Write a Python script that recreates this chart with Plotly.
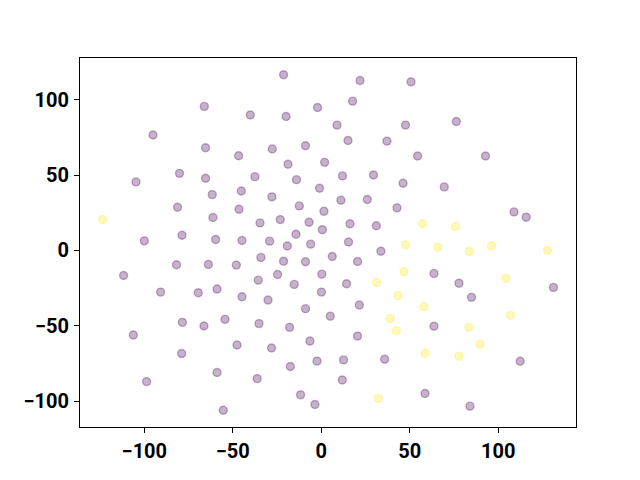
import plotly.graph_objects as go

# Purple (class 0) points
purple_x = [-21.3, -66.1, -40.1, -19.9, -2.1, -95.1, -65.4, -46.7, -27.7, -8.9,
            -18.8, 1.9, -104.7, -80.1, -65.4, -37.5, -14.0, -61.6, -45.2, -27.9,
            -1.0, -81.2, -61.2, -46.5, -12.4, 1.5, -34.6, -23.2, -6.9, 0.6,
            -14.3, -100.0, -78.7, -59.7, -44.8, -29.2, -19.2, -6.0,
            21.9, 50.7, 17.7, 8.9, 47.6, 76.3, 15.1, 37.1, 54.4, 92.8,
            12.0, 29.5, 46.2, 69.5, 11.1, 26.0, 42.8, 108.9, 115.8, 16.2,
            31.1, 15.4, 33.7,
            6.2, 20.5, 0.3, 63.7, 14.3, 77.8, 131.2, 0.1, 84.9, 21.5,
            5.1, 63.7, 20.5, -2.4, 12.6, 35.8, 112.4, 11.9, 58.6, 84.0,
            -81.8, -63.8, -48.0, -34.1, -21.3, -8.9, -111.7, -90.8, -69.5, -58.9,
            -44.8, -35.6, -24.7, -15.3, -30.1, -8.9, -78.5, -66.3, -54.4, -35.2,
            -17.9, -106.2, -47.6, -28.1, -6.4, -78.9, -17.5, -98.7, -58.9, -36.2,
            -11.7, -3.6, -55.4]
purple_y = [116.6, 95.6, 89.9, 88.9, 94.9, 76.6, 68.2, 62.9, 67.4, 69.5,
            57.2, 58.5, 45.5, 51.2, 47.9, 49.0, 47.0, 37.1, 39.5, 35.6,
            41.3, 28.7, 21.9, 27.4, 29.6, 26.0, 18.3, 20.5, 18.7, 13.8,
            10.8, 6.4, 10.1, 7.3, 6.6, 6.2, 3.0, 4.2,
            112.8, 111.9, 99.1, 83.2, 83.2, 85.6, 73.0, 72.6, 62.7, 62.7,
            49.5, 50.1, 44.6, 42.2, 33.3, 33.8, 28.3, 25.6, 22.1, 17.7,
            16.4, 5.6, -0.5,
            -4.0, -7.3, -15.7, -15.2, -22.1, -21.7, -24.5, -27.6, -31.1, -36.2,
            -43.6, -50.3, -56.8, -73.4, -72.6, -72.2, -73.5, -85.9, -94.9, -103.3,
            -9.5, -9.3, -9.7, -4.6, -7.1, -7.5, -16.6, -27.6, -28.0, -25.6,
            -30.7, -19.7, -15.9, -22.5, -32.9, -38.6, -47.7, -50.1, -45.7, -48.5,
            -51.0, -56.1, -62.7, -64.7, -60.1, -68.4, -77.0, -87.0, -81.0, -85.0,
            -95.8, -102.2, -106.0]

# Yellow (class 1) points
yellow_x = [-123.6, 57.2, 75.9, 47.7, 65.9, 83.6, 96.2, 127.8, 46.7, 31.2,
            104.4, 43.3, 58.0, 39.0, 106.9, 42.4, 83.4, 89.8, 58.6, 77.8, 32.2]
yellow_y = [20.5, 17.7, 15.9, 3.8, 2.2, -0.7, 3.1, 0.0, -14.1, -21.2,
            -18.5, -30.0, -37.3, -45.2, -43.0, -53.2, -51.0, -62.3, -68.2, -70.2, -98.0]

tick_vals = [-100, -50, 0, 50, 100]
tick_text = ["\u2212100", "\u221250", "0", "50", "100"]

all_x = purple_x + yellow_x
all_y = purple_y + yellow_y
xpad = (max(all_x) - min(all_x)) * 0.05
ypad = (max(all_y) - min(all_y)) * 0.05

PURPLE = "rgba(68,1,84,0.3)"
YELLOW = "rgba(253,231,37,0.3)"

fig = go.Figure()
fig.add_trace(go.Scatter(x=purple_x, y=purple_y, mode="markers",
                         marker=dict(size=8, color=PURPLE, line=dict(color=PURPLE, width=1.4)),
                         showlegend=False))
fig.add_trace(go.Scatter(x=yellow_x, y=yellow_y, mode="markers",
                         marker=dict(size=8, color=YELLOW, line=dict(color=YELLOW, width=1.4)),
                         showlegend=False))

axis_common = dict(showgrid=False, zeroline=False, showline=True, mirror=True,
                   linecolor="black", linewidth=1, ticks="outside", ticklen=5,
                   tickwidth=1, tickcolor="black", automargin=False,
                   tickfont=dict(family="Roboto", size=20, color="black", weight="bold"))

# The page body has an 8px margin, so the figure is slightly smaller and offset
fig.update_layout(
    width=632, height=472,
    margin=dict(l=72, r=64, t=50, b=53),
    paper_bgcolor="white", plot_bgcolor="white",
    xaxis=dict(range=[min(all_x) - xpad, max(all_x) + xpad], tickvals=tick_vals,
               ticktext=tick_text, ticklabelstandoff=1, **axis_common),
    yaxis=dict(range=[min(all_y) - ypad, max(all_y) + ypad], tickvals=tick_vals,
               ticktext=tick_text, ticklabelstandoff=1, **axis_common),
)

fig.write_html("out.html")
